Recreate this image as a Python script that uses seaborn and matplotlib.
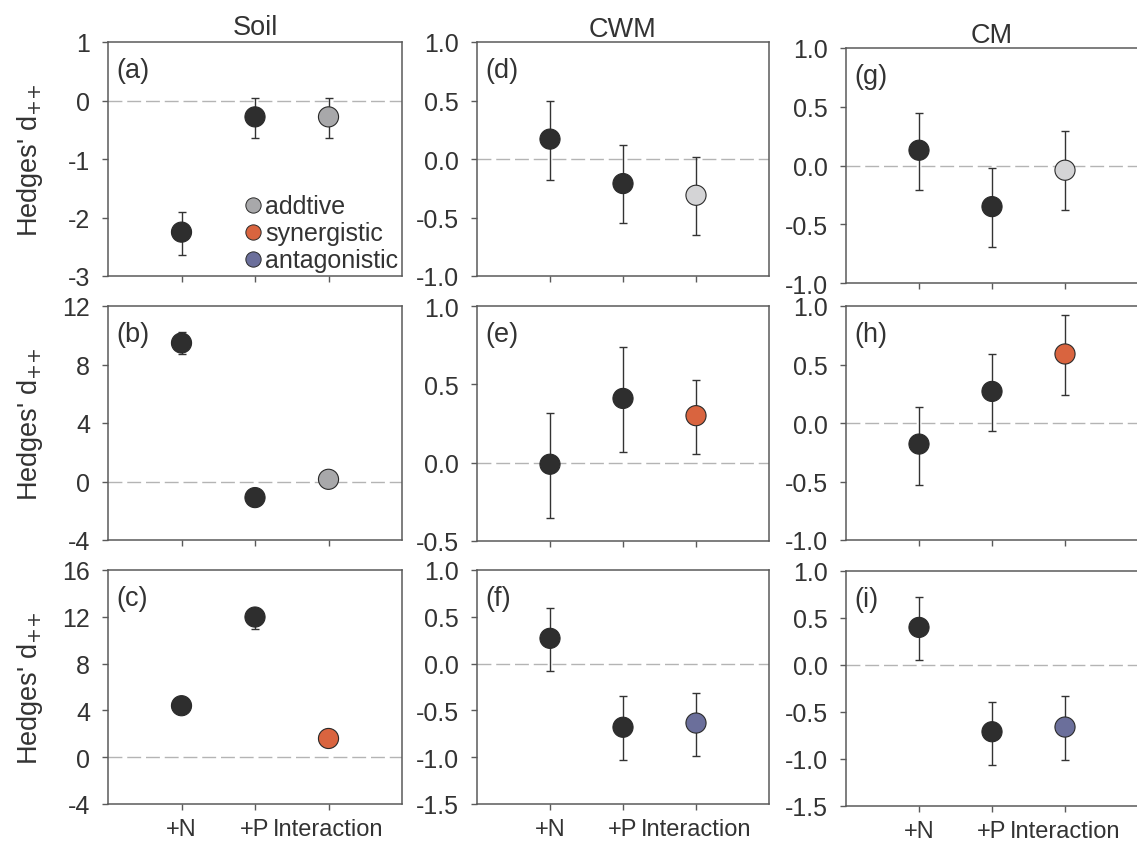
import numpy as np
import pandas as pd
import matplotlib
matplotlib.use("Agg")
import matplotlib.pyplot as plt
import matplotlib.transforms as mtransforms
from matplotlib.lines import Line2D
import seaborn as sns

# ---------------- data ----------------
categories = ["+N", "+P", "Interaction"]
column_titles = ["Soil", "CWM", "CM"]
panel_labels = ["(a)", "(b)", "(c)", "(d)", "(e)", "(f)", "(g)", "(h)", "(i)"]

# means and CI (lower, upper) for +N, +P, Interaction
a_mean = [-2.25, -0.28, -0.28]; a_lo = [-2.64, -0.64, -0.64]; a_hi = [-1.91, 0.05, 0.05]
b_mean = [9.47, -1.10, 0.15];   b_lo = [8.70, -1.50, -0.20];  b_hi = [10.20, -0.70, 0.50]
c_mean = [4.40, 11.98, 1.60];   c_lo = [4.00, 11.00, 1.20];   c_hi = [4.80, 12.60, 2.00]
d_mean = [0.17, -0.21, -0.31];  d_lo = [-0.18, -0.55, -0.65]; d_hi = [0.50, 0.12, 0.02]
e_mean = [-0.01, 0.41, 0.30];   e_lo = [-0.35, 0.07, 0.055];  e_hi = [0.32, 0.74, 0.53]
f_mean = [0.27, -0.68, -0.635]; f_lo = [-0.08, -1.03, -0.99]; f_hi = [0.59, -0.35, -0.31]
g_mean = [0.13, -0.35, -0.04];  g_lo = [-0.21, -0.69, -0.38]; g_hi = [0.45, -0.02, 0.29]
h_mean = [-0.18, 0.27, 0.59];   h_lo = [-0.53, -0.07, 0.24];  h_hi = [0.14, 0.59, 0.92]
i_mean = [0.40, -0.71, -0.66];  i_lo = [0.05, -1.06, -1.01];  i_hi = [0.72, -0.39, -0.33]

# interaction type per panel
interaction_type = ["addtive", "addtive", "synergistic",
                    "addtive_light", "synergistic", "antagonistic",
                    "addtive_light", "synergistic", "antagonistic"]

# y-axis ranges and ticks per panel
ylims = [(-3, 1), (-4, 12), (-4, 16),
         (-1, 1), (-0.5, 1.0), (-1.5, 1.0),
         (-1, 1), (-1, 1), (-1.5, 1.0)]
yticks = [[-3, -2, -1, 0, 1], [-4, 0, 4, 8, 12], [-4, 0, 4, 8, 12, 16],
          [-1.0, -0.5, 0.0, 0.5, 1.0], [-0.5, 0.0, 0.5, 1.0], [-1.5, -1.0, -0.5, 0.0, 0.5, 1.0],
          [-1.0, -0.5, 0.0, 0.5, 1.0], [-1.0, -0.5, 0.0, 0.5, 1.0], [-1.5, -1.0, -0.5, 0.0, 0.5, 1.0]]

means = [a_mean, b_mean, c_mean, d_mean, e_mean, f_mean, g_mean, h_mean, i_mean]
lows = [a_lo, b_lo, c_lo, d_lo, e_lo, f_lo, g_lo, h_lo, i_lo]
highs = [a_hi, b_hi, c_hi, d_hi, e_hi, f_hi, g_hi, h_hi, i_hi]

legend_labels = ["addtive", "synergistic", "antagonistic"]

# ---------------- style ----------------
sns.set_theme(style="white")
plt.rcParams["font.family"] = ["Liberation Sans", "DejaVu Sans"]
plt.rcParams["axes.unicode_minus"] = False

palette = {
    "main": "#2e2e2e",
    "addtive": "#a8a8aa",
    "addtive_light": "#d4d4d6",
    "synergistic": "#d9643f",
    "antagonistic": "#6b6f9b",
}
text_color = "#333333"
spine_color = "#5a5a5a"
FS = 18      # y tick labels, legend
FS_X = 17    # x tick labels
FS_L = 19.5  # titles, y labels, panel labels

W, H = 1137, 845
fig = plt.figure(figsize=(W / 100, H / 100), dpi=100)

# axes boxes in pixels: (left, top, right, bottom)
boxes = [
    (108, 43, 402, 277), (108, 307, 402, 541), (108, 571, 402, 805),
    (477, 43, 769, 277), (477, 307, 769, 542), (477, 571, 769, 805),
    (846, 49, 1138, 284), (846, 307, 1138, 541), (846, 572, 1138, 807),
]
title_pads = [6, 3.6, 4.5]
xlabel_offsets_px = [8, 5, 14]

for k in range(9):
    col, row = divmod(k, 3)
    l, t, r, b = boxes[k]
    ax = fig.add_axes([l / W, 1 - b / H, (r - l) / W, (b - t) / H])

    df = pd.DataFrame({
        "cat": categories,
        "x": np.arange(len(categories)),
        "mean": means[k],
        "lo": lows[k],
        "hi": highs[k],
        "type": ["main", "main", interaction_type[k]],
    })

    ax.axhline(0, color="#b4b4b4", lw=1.0, ls=(0, (10, 3.5)), zorder=1)
    yerr = np.vstack([df["mean"] - df["lo"], df["hi"] - df["mean"]])
    ax.errorbar(df["x"], df["mean"], yerr=yerr, fmt="none", ecolor="#333333",
                elinewidth=1.0, capsize=3, capthick=1.0, zorder=2)
    sns.scatterplot(data=df, x="x", y="mean", hue="type", palette=palette,
                    s=210, edgecolor="#2a2a2a", linewidth=0.8, legend=False,
                    ax=ax, zorder=3)

    ax.set_xlim(-1, 3)
    ax.set_ylim(*ylims[k])
    ax.set_xticks(range(len(categories)))
    ax.set_yticks(yticks[k])
    if col == 0:
        ax.set_yticklabels([f"{v:g}" for v in yticks[k]])
    else:
        ax.set_yticklabels([f"{v:.1f}" for v in yticks[k]])

    if row == 2:
        ax.set_xticklabels(categories, fontsize=FS_X)
        for lab, off in zip(ax.get_xticklabels(), xlabel_offsets_px):
            shift = mtransforms.ScaledTranslation(off / 100, 0, fig.dpi_scale_trans)
            lab.set_transform(lab.get_transform() + shift)
    else:
        ax.set_xticklabels([])

    ax.tick_params(axis="both", which="both", direction="out", length=4,
                   width=1, color=spine_color, labelcolor=text_color,
                   bottom=True, left=True)
    ax.tick_params(axis="y", labelsize=FS, pad=9)
    ax.tick_params(axis="x", labelsize=FS_X, pad=6)
    for sp in ax.spines.values():
        sp.set_color(spine_color)
        sp.set_linewidth(1.1)
        sp.set_visible(True)

    ax.set_xlabel("")
    if col == 0:
        ax.set_ylabel(r"Hedges' d$_{{+}{+}}$", fontsize=FS_L, color=text_color)
        ax.yaxis.set_label_coords(-0.215, 0.5)
    else:
        ax.set_ylabel("")

    if row == 0:
        ax.set_title(column_titles[col], fontsize=FS_L, color=text_color,
                     pad=title_pads[col])

    ax.text(0.03, 0.88, panel_labels[k], transform=ax.transAxes, fontsize=FS_L,
            color=text_color, ha="left", va="center")

    if k == 0:
        handles = [Line2D([0], [0], marker="o", ls="none", markersize=11,
                          markerfacecolor=palette[key], markeredgecolor="#2a2a2a",
                          markeredgewidth=0.7)
                   for key in ["addtive", "synergistic", "antagonistic"]]
        ax.legend(handles, legend_labels, loc="lower right", frameon=False,
                  fontsize=FS, handletextpad=0.0, handlelength=1.0,
                  labelspacing=0.12, borderaxespad=0.05, borderpad=0.1,
                  labelcolor=text_color)

fig.savefig("out.png", dpi=100)
